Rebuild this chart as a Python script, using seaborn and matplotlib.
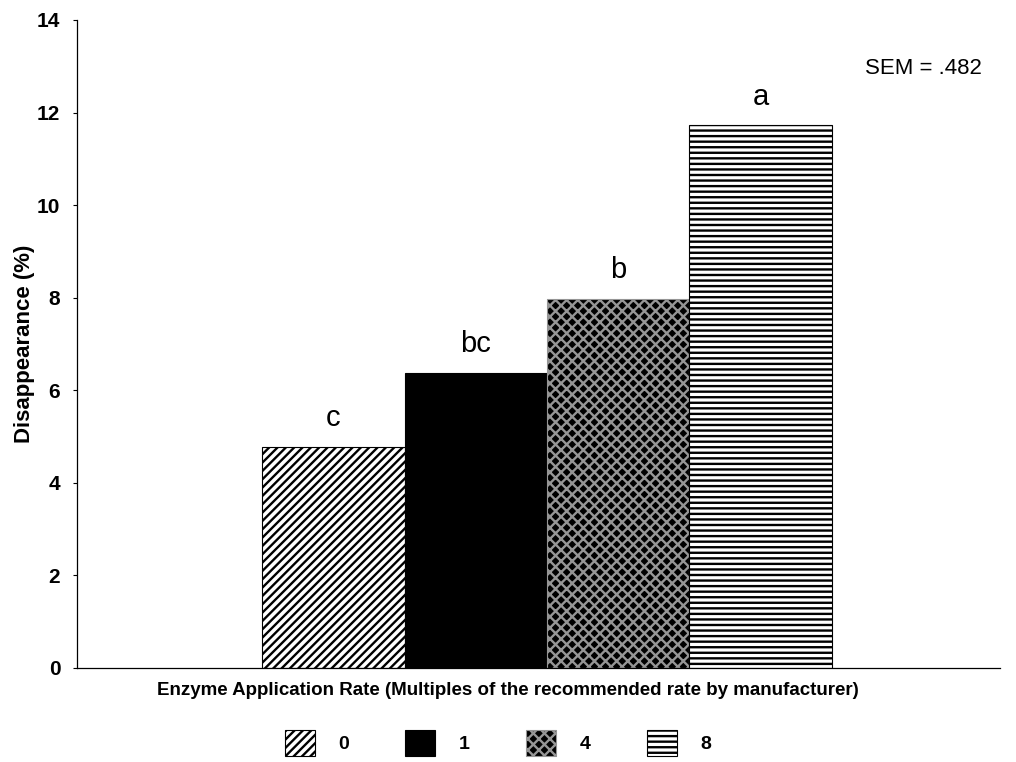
import matplotlib
matplotlib.use("Agg")
import matplotlib.pyplot as plt
import seaborn as sns
import pandas as pd
from matplotlib.patches import Patch

sns.set_theme(style="white")
plt.rcParams['font.family'] = ['Liberation Sans', 'DejaVu Sans']
plt.rcParams['hatch.linewidth'] = 1.7
for k in ['text.color', 'axes.labelcolor', 'xtick.color', 'ytick.color']:
    plt.rcParams[k] = 'black'

rates = ["0", "1", "4", "8"]
disappearance = [4.78, 6.38, 7.98, 11.72]
letters = ["c", "bc", "b", "a"]
sem_text = "SEM = .482"

df = pd.DataFrame({"rate": rates, "val": disappearance})

fig = plt.figure(figsize=(10.16, 7.62), dpi=100)
ax = fig.add_axes([0.0758, 0.1234, 0.9082, 0.8504])

faces = ["white", "black", "black", "white"]
sns.barplot(data=df, x="rate", y="val", hue="rate", dodge=False, width=1.0,
            palette=faces, legend=False, ax=ax, saturation=1)

hatches = ["////", "", "xxx", "---"]
edges = ["black", "black", "#959595", "black"]
for p, h, e in zip(ax.patches, hatches, edges):
    p.set_hatch(h)
    p.set_edgecolor(e)
    p.set_linewidth(0.8)

for i, (v, t) in enumerate(zip(disappearance, letters)):
    ax.text(i, v + 0.62, t, ha="center", va="center", fontsize=21)

ax.text(0.981, 0.925, sem_text, transform=ax.transAxes, ha="right",
        va="center", fontsize=16)

ax.set_xlim(-1.8, 4.68)
ax.set_ylim(0, 14)
ax.set_yticks(range(0, 15, 2))
ax.set_yticklabels([str(v) for v in range(0, 15, 2)], fontsize=15,
                   fontweight="bold")
ax.set_xticks([])
ax.set_ylabel("Disappearance (%)", fontsize=16, fontweight="bold")
ax.yaxis.set_label_coords(-0.045, 0.5)
ax.set_xlabel("Enzyme Application Rate (Multiples of the recommended rate by manufacturer)",
              fontsize=13.5, fontweight="bold")
ax.xaxis.set_label_coords(0.467, -0.022)
ax.tick_params(axis="y", length=3, left=True, width=0.8, color="black",
               pad=9)
for s in ["top", "right"]:
    ax.spines[s].set_visible(False)
for s in ["left", "bottom"]:
    ax.spines[s].set_color("black")
    ax.spines[s].set_linewidth(0.9)

handles = [Patch(facecolor=fc, edgecolor=ec, hatch=h, linewidth=0.8)
           for fc, ec, h in zip(faces, edges, hatches)]
fig.legend(handles, rates, loc="lower center", ncol=4, frameon=False,
           bbox_to_anchor=(0.49, -0.015), handlelength=1.55,
           handleheight=1.65, columnspacing=2.9, handletextpad=1.2,
           prop={"weight": "bold", "size": 14})

fig.savefig("out.png", dpi=100)
